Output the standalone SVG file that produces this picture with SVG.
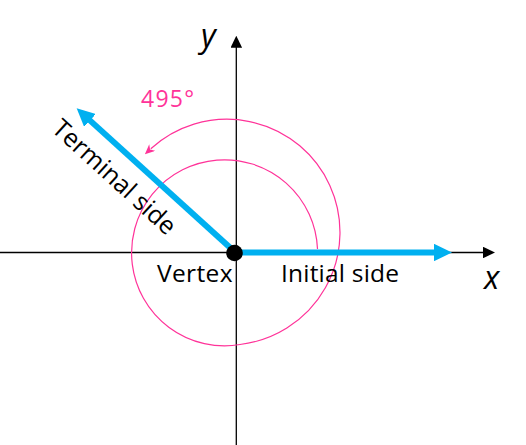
<svg xmlns="http://www.w3.org/2000/svg" width="526" height="445" viewBox="0 0 526 445">
  <style>
    .axis { stroke: #000; stroke-width: 1.3; fill: none; }
    .side { stroke: #00B0F0; stroke-width: 6; fill: none; }
    .turn { stroke: #FF3399; stroke-width: 1.2; fill: none; }
    .lbl { font-family: "Open Sans", "Liberation Sans", sans-serif; font-size: 24.5px; fill: #000; }
    .ax { font-family: "Open Sans", "Liberation Sans", sans-serif; font-size: 32px; font-style: italic; fill: #000; }
    .deg { font-family: "Open Sans", "Liberation Sans", sans-serif; font-size: 23px; fill: #FF3399; }
  </style>
  <defs>
    <marker id="axisHead" markerUnits="userSpaceOnUse" viewBox="0 0 12 11.5" markerWidth="12" markerHeight="11.5" refX="1" refY="5.75" orient="auto">
      <path d="M0,0 L12,5.75 L0,11.5 z" fill="#000"/>
    </marker>
    <marker id="sideHead" markerUnits="userSpaceOnUse" viewBox="0 0 18 17.4" markerWidth="18" markerHeight="17.4" refX="2" refY="8.7" orient="auto">
      <path d="M0,0 L18,8.7 L0,17.4 z" fill="#00B0F0"/>
    </marker>
    <marker id="turnHead" markerUnits="userSpaceOnUse" viewBox="0 0 10 9" markerWidth="10" markerHeight="9" refX="2" refY="4.5" orient="auto">
      <path d="M0,0 L10,4.5 L0,9 L3,4.5 z" fill="#FF3399"/>
    </marker>
  </defs>

  <g id="connectors">
    <line id="x-axis" class="axis" x1="0" y1="252.5" x2="484" y2="252.5" marker-end="url(#axisHead)"/>
    <line id="y-axis" class="axis" x1="236.3" y1="445" x2="236.3" y2="46.7" marker-end="url(#axisHead)"/>
    <path id="rotation" class="turn" d="M317.5,249 A93,93 0 1 0 240,344.5 A113,113 0 1 0 150.8,148.8" marker-end="url(#turnHead)"/>
    <line id="initial-side" class="side" x1="236" y1="252.5" x2="436" y2="252.5" marker-end="url(#sideHead)"/>
    <line id="terminal-side" class="side" x1="236" y1="253" x2="88.5" y2="119.1" marker-end="url(#sideHead)"/>
  </g>

  <g id="vertex">
    <circle cx="234.5" cy="253" r="8.3" fill="#000"/>
    <text class="lbl" x="157" y="281.7" textLength="75.5">Vertex</text>
  </g>

  <g id="initial-label">
    <text class="lbl" x="281" y="281.7" textLength="118">Initial side</text>
  </g>

  <g id="terminal-label">
    <text class="lbl" style="font-size:25px" transform="translate(50.5,130.5) rotate(42.3)">Terminal side</text>
  </g>

  <g id="angle-label">
    <text class="deg" x="141" y="107.3" textLength="53">495°</text>
  </g>

  <g id="axis-labels">
    <text class="ax" x="484" y="289">x</text>
    <text class="ax" x="201" y="46.6">y</text>
  </g>
</svg>
